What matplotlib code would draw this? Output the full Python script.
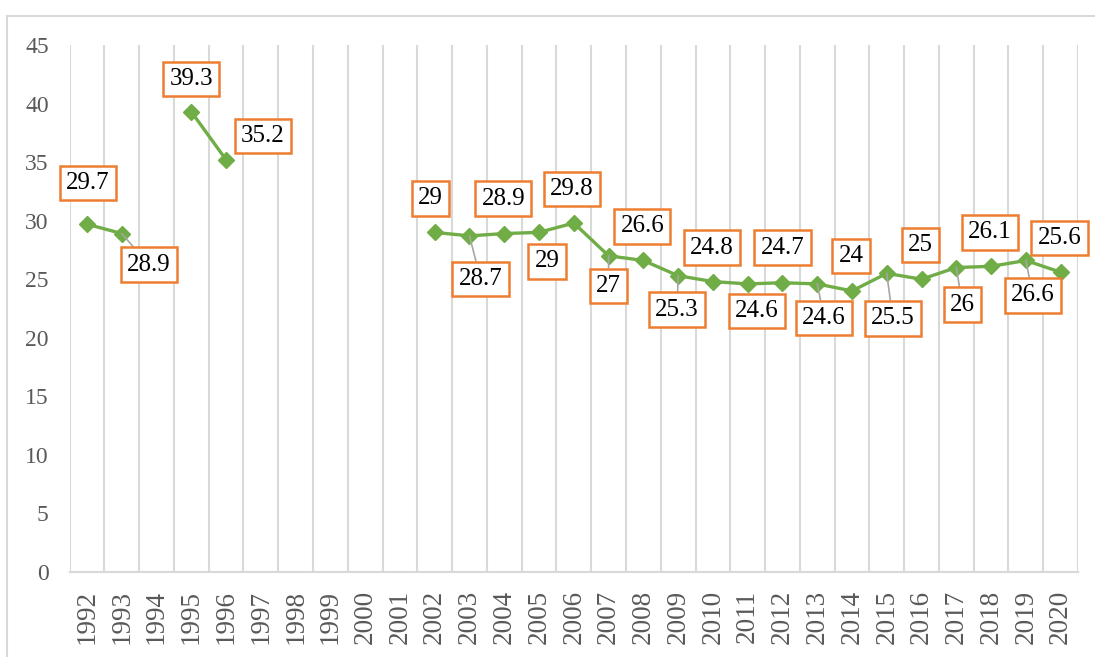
import numpy as np
import matplotlib.pyplot as plt
from matplotlib.lines import Line2D

# Datos
years = [str(y) for y in range(1992, 2021)]
values = [29.7, 28.9, np.nan, 39.3, 35.2, np.nan, np.nan, np.nan, np.nan, np.nan,
          29, 28.7, 28.9, 29, 29.8, 27, 26.6, 25.3, 24.8, 24.6, 24.7, 24.6,
          24, 25.5, 25, 26, 26.1, 26.6, 25.6]

# desplazamiento de cada etiqueta (pixeles) y si lleva linea guia
offsets = {1992: (1, 41), 1993: (27, -31), 1995: (0, 33), 1996: (37, 24),
           2002: (-4, 34), 2003: (11, -43), 2004: (-1, 35), 2005: (8, -29),
           2006: (-2, 34), 2007: (0, -30), 2008: (-1, 34), 2009: (-1, -34),
           2010: (-1, 34), 2011: (9, -27), 2012: (0, 35), 2013: (7, -34),
           2014: (-1, 35), 2015: (6, -45), 2016: (-1, 34), 2017: (6, -37),
           2018: (-1, 34), 2019: (7, -35), 2020: (-1, 34)}
leaders = [1993, 2003, 2007, 2009, 2013, 2015, 2017, 2019]

plt.rcParams['font.family'] = ['Liberation Serif', 'DejaVu Serif']

fig = plt.figure(figsize=(10.95, 6.57), dpi=100)
ax = fig.add_axes([69.6 / 1095, 85 / 657, (1078 - 69.6) / 1095, (572 - 45) / 657])

x = np.arange(len(years))
grid_c = '#D9D9D9'
for b in np.arange(-0.5, len(years), 1.0):
    ax.axvline(b, color=grid_c, lw=1.5, zorder=0)

ax.plot(x, values, color='#70AD47', lw=2.4, marker='D', markersize=8.5, zorder=3)

for i, v in enumerate(values):
    if np.isnan(v):
        continue
    yr = int(years[i])
    dx, dy = offsets[yr]
    arrow = None
    if yr in leaders:
        arrow = dict(arrowstyle='-', color='#A6A6A6', lw=1.2, shrinkA=0, shrinkB=0)
    ax.annotate(f'{v:g}', (i, v), xytext=(dx, dy), textcoords='offset pixels',
                ha='center', va='center', fontsize=18, color='black', zorder=4,
                bbox=dict(boxstyle='square,pad=0.25', fc='white', ec='#ED7D31', lw=1.8),
                arrowprops=arrow)

ax.set_xlim(-0.5, len(years) - 0.5)
ax.set_ylim(0, 45)
ax.set_yticks(range(0, 46, 5))
ax.set_xticks(x)
ax.set_xticklabels(years, rotation=90)
ax.tick_params(axis='y', length=0, pad=15, labelsize=17, labelcolor='#595959')
ax.tick_params(axis='x', length=0, pad=13, labelsize=19.5, labelcolor='#595959')
for s in ['top', 'right', 'left']:
    ax.spines[s].set_visible(False)
ax.spines['bottom'].set_color(grid_c)
ax.spines['bottom'].set_linewidth(1.5)

# marco exterior
fig.add_artist(Line2D([7 / 1095, 1], [1 - 16 / 657, 1 - 16 / 657], color=grid_c, lw=1.5))
fig.add_artist(Line2D([7 / 1095, 7 / 1095], [0, 1 - 16 / 657], color=grid_c, lw=1.5))

fig.savefig('out.png', dpi=100)
